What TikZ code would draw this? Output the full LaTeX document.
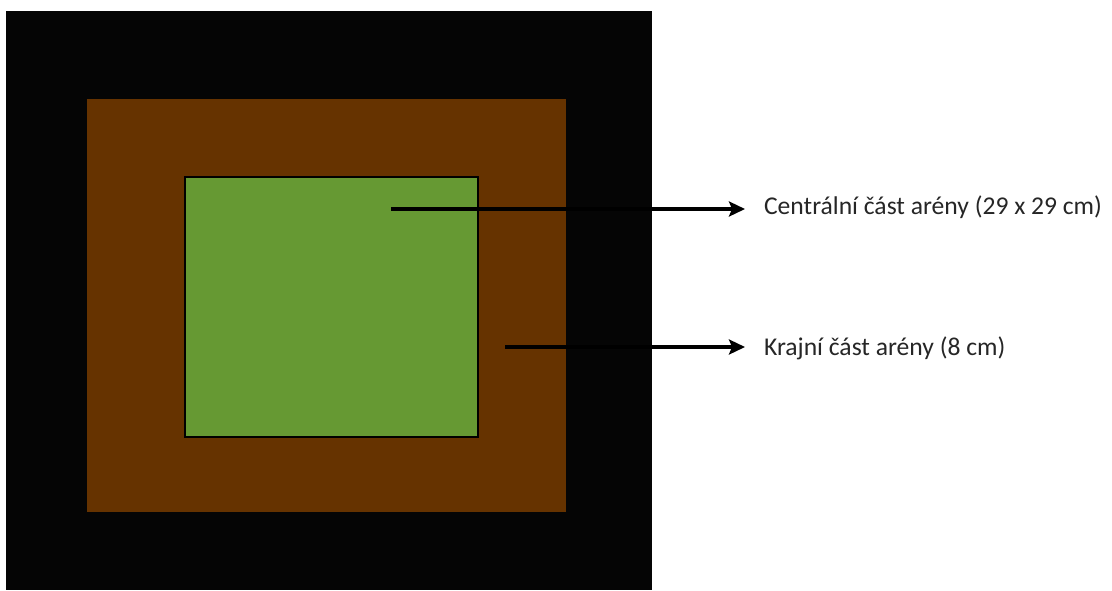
\documentclass[tikz,border=0pt]{standalone}
\usepackage{fontspec}
\setmainfont{Carlito}
\usetikzlibrary{arrows.meta}
\definecolor{arenablack}{HTML}{050505}
\definecolor{arenabrown}{HTML}{663300}
\definecolor{arenagreen}{HTML}{669933}
\begin{document}
\begin{tikzpicture}[x=0.5pt, y=-0.5pt,
    pointer/.style={line width=1.6pt, -{Stealth[length=8pt,width=7.5pt,inset=1.5pt]}, shorten >=6pt},
    every node/.style={font=\fontsize{12.8}{15}\selectfont, anchor=west, text=black!85}]
    \useasboundingbox (0,0) rectangle (1112,590);
    \fill[arenablack] (6,11) rectangle (652,590);
    \fill[arenabrown] (87,99) rectangle (566,512);
    \draw[line width=1pt, fill=arenagreen] (185,177) rectangle (478,437);
    \coordinate (C) at (391,209);
    \coordinate (K) at (505,347);
    \node (centralni) at (757,207) {Centrální část arény (29 x 29 cm)};
    \node (krajni) at (757,348) {Krajní část arény (8 cm)};
    \draw[pointer] (C) -- (C -| centralni.west);
    \draw[pointer] (K) -- (K -| krajni.west);
\end{tikzpicture}
\end{document}
